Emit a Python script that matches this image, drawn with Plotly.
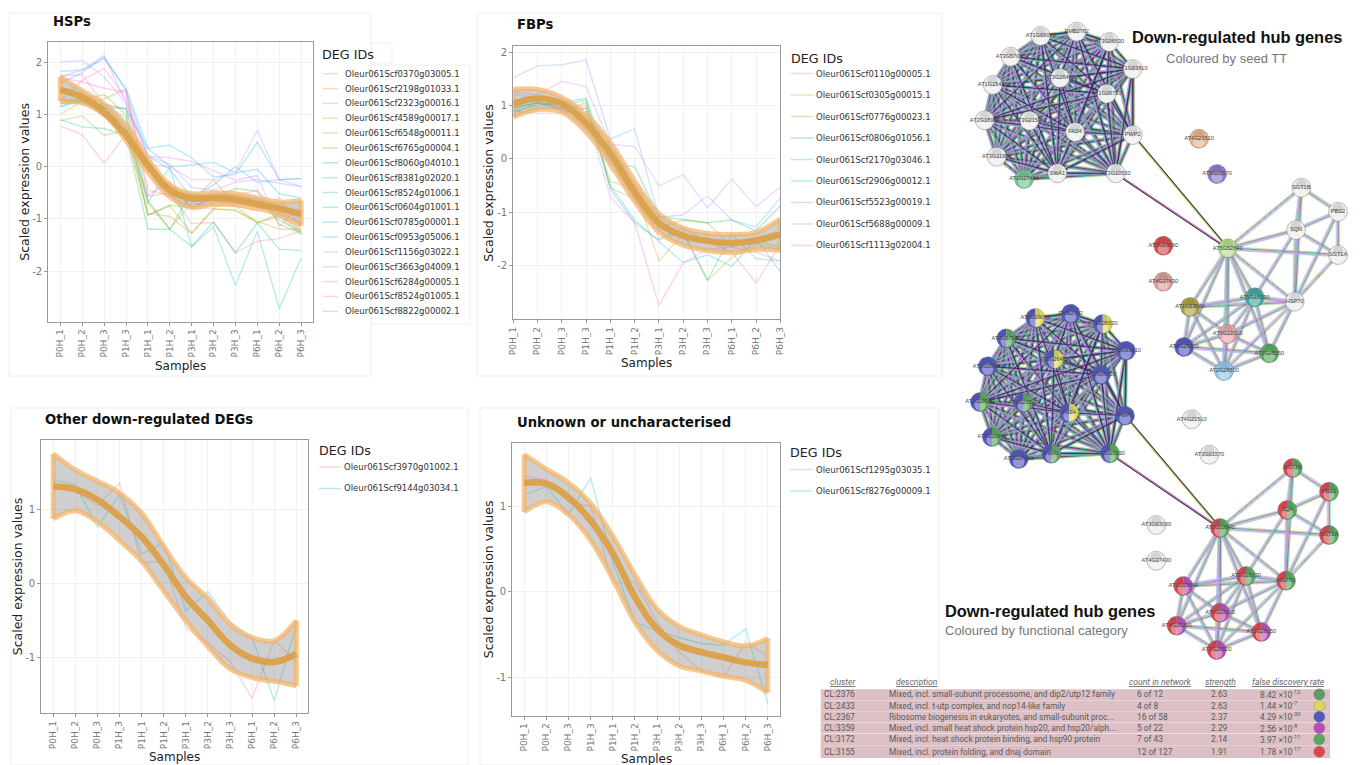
import math
import plotly.graph_objects as go

W, H = 1366, 765
SAMPLES = ["P0H_1","P0H_2","P0H_3","P1H_3","P1H_1","P1H_2","P3H_1","P3H_2","P3H_3","P6H_1","P6H_2","P6H_3"]

hsp_ids = ["Oleur061Scf0370g03005.1","Oleur061Scf2198g01033.1","Oleur061Scf2323g00016.1","Oleur061Scf4589g00017.1",
           "Oleur061Scf6548g00011.1","Oleur061Scf6765g00004.1","Oleur061Scf8060g04010.1","Oleur061Scf8381g02020.1",
           "Oleur061Scf8524g01006.1","Oleur061Scf0604g01001.1","Oleur061Scf0785g00001.1","Oleur061Scf0953g05006.1",
           "Oleur061Scf1156g03022.1","Oleur061Scf3663g04009.1","Oleur061Scf6284g00005.1","Oleur061Scf8524g01005.1",
           "Oleur061Scf8822g00002.1"]
hsp_values = [
 [0.78,0.61,0.06,0.62,-0.57,-0.50,-1.09,-1.07,-1.65,-1.43,-1.38,-1.22],
 [1.2,1.25,1.3,1.48,-0.45,-0.55,-0.65,-0.25,-0.75,-0.85,-0.6,-1.15],
 [1.0,1.25,0.95,0.7,-0.9,-0.95,-1.28,-0.8,-0.85,-1.05,-1.2,-1.2],
 [1.3,1.2,1.15,0.75,-0.7,-1.2,-0.7,-0.75,-0.75,-1.08,-0.9,-1.25],
 [0.88,0.97,0.6,0.68,-0.93,-0.75,-1.27,-0.82,-0.82,-1.08,-0.95,-1.3],
 [1.2,1.28,1.38,1.0,-0.93,-0.74,-0.78,-0.6,-0.42,-0.47,-1.1,-1.28],
 [1.15,1.3,1.12,1.12,-0.65,-1.2,-0.5,-0.65,-0.65,-0.6,-1.02,-1.25],
 [0.9,0.76,0.73,0.6,-1.2,-1.2,-1.53,-1.06,-1.65,-1.08,-1.58,-1.61],
 [1.25,1.3,1.15,0.95,-0.7,0.0,-1.54,-1.15,-2.27,-1.24,-2.72,-1.75],
 [1.15,1.25,1.18,1.1,0.35,0.41,0.17,-0.2,-0.15,0.47,-0.25,-0.23],
 [1.82,1.85,2.07,1.5,0.35,0.0,0.03,0.08,-0.12,-0.05,-0.52,-0.6],
 [1.6,1.8,2.1,1.45,0.2,-0.05,-0.6,-0.35,0.0,-0.3,-0.25,-0.23],
 [2.0,2.03,1.72,1.2,0.2,0.05,-0.4,-0.45,-0.3,-0.25,-0.32,-0.38],
 [1.72,1.85,2.13,1.22,0.03,0.0,-0.25,-0.25,-0.1,0.69,-0.25,-0.38],
 [1.25,1.65,1.88,1.3,0.2,0.17,0.1,-0.08,-0.26,-0.17,-1.15,-0.75],
 [1.7,1.62,1.5,1.42,-0.55,-0.3,-0.8,-0.55,-0.55,-0.45,-0.95,-1.2],
 [1.75,1.75,1.2,1.1,-0.1,-0.35,-0.8,-0.8,-0.6,-0.65,-0.85,-1.1],
]
hsp_mean = [1.47,1.33,1.04,0.6,0.03,-0.45,-0.61,-0.6,-0.63,-0.72,-0.8,-0.91]
hsp_hi = [1.72,1.45,1.2,0.8,0.15,-0.35,-0.52,-0.5,-0.52,-0.6,-0.68,-0.65]
hsp_lo = [1.25,1.22,1.0,0.5,-0.1,-0.58,-0.78,-0.72,-0.73,-0.8,-0.92,-1.13]

fbp_ids = ["Oleur061Scf0110g00005.1","Oleur061Scf0305g00015.1","Oleur061Scf0776g00023.1","Oleur061Scf0806g01056.1",
           "Oleur061Scf2170g03046.1","Oleur061Scf2906g00012.1","Oleur061Scf5523g00019.1","Oleur061Scf5688g00009.1",
           "Oleur061Scf1113g02004.1"]
fbp_values = [
 [0.9,0.85,0.85,0.95,-0.2,-0.5,-1.5,-1.3,-1.55,-1.75,-2.33,-1.6],
 [0.8,0.95,0.95,1.0,-0.43,-0.55,-1.92,-1.4,-2.28,-1.85,-1.6,-1.7],
 [0.85,1.05,0.9,1.05,-0.55,-0.75,-1.3,-1.15,-1.2,-1.65,-1.55,-1.65],
 [0.95,1.05,1.0,1.1,-0.1,-0.15,-1.08,-1.14,-1.2,-1.15,-1.35,-0.88],
 [0.9,1.0,1.05,1.13,-0.57,-1.2,-1.52,-1.37,-2.28,-1.42,-1.87,-1.92],
 [0.95,1.05,0.95,0.95,-0.5,-1.15,-1.55,-1.95,-1.8,-2.02,-1.5,-2.12],
 [1.52,1.74,1.76,1.85,0.37,0.56,-1.1,-1.05,-0.7,-1.15,-1.28,-0.73],
 [1.25,1.2,1.45,1.35,0.27,0.23,-0.51,-0.3,-0.92,-0.38,-0.9,-0.53],
 [1.2,1.15,0.9,0.85,-0.72,-1.2,-2.75,-1.95,-1.7,-1.65,-1.75,-1.92],
]
fbp_mean = [1.03,1.13,1.03,0.66,0.1,-0.62,-1.2,-1.45,-1.54,-1.58,-1.53,-1.42]
fbp_hi = [1.3,1.3,1.15,0.82,0.3,-0.42,-1.03,-1.3,-1.4,-1.42,-1.38,-1.13]
fbp_lo = [0.78,0.92,0.87,0.5,-0.1,-0.8,-1.37,-1.62,-1.72,-1.76,-1.7,-1.72]

other_ids = ["Oleur061Scf3970g01002.1","Oleur061Scf9144g03034.1"]
other_values = [
 [1.3,1.25,1.05,1.35,0.28,0.3,-0.6,-0.8,-1.05,-1.55,-0.77,-1.05],
 [1.4,1.33,0.76,1.2,0.4,0.55,-0.37,-0.11,-0.52,-0.73,-1.58,-0.55],
]
other_mean = [1.31,1.27,1.13,0.9,0.63,0.25,-0.18,-0.5,-0.83,-1.01,-1.06,-0.95]
other_hi = [1.75,1.53,1.38,1.22,0.95,0.5,0.08,-0.2,-0.55,-0.73,-0.77,-0.5]
other_lo = [0.87,0.98,0.83,0.58,0.3,-0.1,-0.5,-0.85,-1.15,-1.27,-1.32,-1.38]

unk_ids = ["Oleur061Scf1295g03035.1","Oleur061Scf8276g00009.1"]
unk_values = [
 [1.35,1.3,1.05,1.0,0.1,0.12,-0.35,-0.7,-0.92,-1.0,-0.58,-0.75],
 [1.13,1.23,0.9,1.33,0.35,-0.35,-0.45,-0.53,-0.6,-0.62,-0.43,-1.3],
]
unk_mean = [1.27,1.26,1.1,0.83,0.45,-0.06,-0.43,-0.62,-0.7,-0.76,-0.82,-0.85]
unk_hi = [1.6,1.43,1.27,1.03,0.65,0.2,-0.2,-0.4,-0.5,-0.58,-0.63,-0.54]
unk_lo = [0.93,1.05,0.9,0.6,0.15,-0.35,-0.68,-0.86,-0.92,-0.98,-1.03,-1.17]

hsp_colors = ["#F8766D","#E7851E","#D09400","#B2A100","#89AC00","#45B500","#00BC51","#00C087","#00C0B2",
              "#00BCD6","#00B3F2","#29A3FF","#9C8DFF","#D277FF","#F166E8","#FF61C7","#FF689E"]
fbp_colors = ["#F8766D","#D39200","#93AA00","#00BA38","#00C19F","#00B9E3","#619CFF","#DB72FB","#FF61C3"]
two_colors = ["#F8766D","#00BFC4"]

# table
table_header = ["cluster","description","count in network","strength","false discovery rate"]
table_cluster = ["CL:2376","CL:2433","CL:2367","CL:3359","CL:3172","CL:3155"]
table_desc = ["Mixed, incl. small-subunit processome, and dip2/utp12 family","Mixed, incl. t-utp complex, and nop14-like family",
              "Ribosome biogenesis in eukaryotes, and small-subunit proc...","Mixed, incl. small heat shock protein hsp20, and hsp20/alph...",
              "Mixed, incl. heat shock protein binding, and hsp90 protein","Mixed, incl. protein folding, and dnaj domain"]
table_count = ["6 of 12","4 of 8","16 of 58","5 of 22","7 of 43","12 of 127"]
table_strength = ["2.63","2.63","2.37","2.29","2.14","1.91"]
table_fdr = ["8.42 ×10<sup>-12</sup>","1.44 ×10<sup>-7</sup>","4.29 ×10<sup>-30</sup>","2.56 ×10<sup>-8</sup>","3.97 ×10<sup>-11</sup>","1.78 ×10<sup>-17</sup>"]
BLUE, YEL, GRN, MAG, RED = "#5158bd", "#dcd85c", "#58a85e", "#b84fb8", "#d9474f"
table_colors = ["#5f9a68", YEL, BLUE, MAG, GRN, RED]

# networks
names = ["AT1G69070","EMB2762","AT3G06530","AT3G57000","AT1G63810","AT3G26480","AT1G15420","AT1G06720","AT2G18900","AT3G21540",
         "FAS4","PWP2","AT3G11964","SWA1","AT3G10530","AT1G27461",
         "AT4G21510","AT3G01570","AT3G63060","AT4G37430",
         "AT5G52840","SGT1B","PBS2","SQN","SGT1A","HSP70","AT1G16030","AT1G53540","AT5G12020","AT4G25200","AT2G28150","AT2G29500"]
top_x = [1040.7,1076.7,1109.3,1010.7,1132.7,1060,992.7,1106.7,984.7,1029.3,1075,1132.7,996.7,1057.3,1115.7,1024,
         1199,1217,1163.3,1163.3,
         1227.7,1301.3,1338,1296,1338,1294.7,1254.7,1190,1227.7,1184,1269.3,1224]
top_y = [36,31.7,42,56.7,69,78,85,93.7,120.3,120.7,132,135,156.7,173.3,173.3,179,
         138.7,174,245.7,281.7,
         248.3,187.7,211.7,230,255,301.7,297.3,307,334,347,353.3,371]
bot_x = [1035.3,1070.7,1102.7,1006.3,1126,1054,987.7,1101,980,1023.3,1069,1125,992,1051.3,1110,1018.7,
         1191.7,1209.3,1156.3,1156.3,
         1220,1292.7,1329,1287.3,1329,1286,1246,1183.3,1220,1176.7,1261.3,1216.7]
bot_y = [318,313.7,324,338.3,350.7,359.3,366.3,374.7,402,402.7,412.7,415.7,437,453.7,453.3,459,
         419.3,454.7,525,560.7,
         528,468,491.7,510,535,580.7,576,586,612.7,625.7,632,650]
WH = "#ececec"
top_fill = [[WH]]*15 + [["#70c890"]] + [["#e8b48c"],["#8f78c8"],["#d9474f"],["#dc9c9c"],
            ["#b5dc8c"],[WH],[WH],[WH],[WH],[WH],["#3fa8a0"],["#a8a040"],["#e4a6a8"],["#5158bd"],[GRN],["#90c8ec"]]
bot_fill = [[BLUE,YEL],[BLUE],[BLUE,YEL],[BLUE,GRN],[BLUE],[BLUE,YEL],[BLUE],[BLUE],[BLUE,GRN],[BLUE,GRN],[BLUE,YEL],[BLUE],[BLUE,GRN],[BLUE,GRN],[BLUE,GRN],[BLUE],
            [WH],[WH],[WH],[WH],
            [RED,GRN],[RED,GRN],[RED,GRN],[RED,GRN],[RED,GRN],[RED,GRN],[RED,GRN],[RED,MAG],[RED,MAG],[RED,MAG],[RED,MAG],[RED,MAG]]
cross_edges = [(20,11,["#c8d860","#333333"]),(20,14,["#333333","#c060c0"])]
c2_edges = [(20,21),(20,23),(20,24),(20,25),(20,26),(20,27),(20,28),(20,29),(20,30),(20,31),
            (22,21),(22,23),(22,24),(22,25),(21,23),(21,25),(23,24),(23,25),(23,26),(24,25),
            (25,26),(25,27),(25,28),(25,30),(25,31),(26,27),(26,28),(26,29),(26,30),(26,31),
            (27,28),(27,29),(27,31),(28,29),(28,30),(28,31),(29,30),(29,31),(30,31)]
c1_edges = [(a,b) for a in range(16) for b in range(a+1,16)]
dense_colors = ["#c8d860","#30b8c8","#2f2f2f","#a030a8","#48a860","#a8a0e0"]
sparse_colors = ["#d6e078","#6cd0dc","#76508e","#d88ad8","#78c488","#b8b0ec"]
NODE_R = 9.5

fig = go.Figure()
shapes, annos = [], []

def px(x): return x / W
def py(y): return 1 - y / H

def text(x, y, s, size=9, color="#333", family="DejaVu Sans", anchor="left", angle=0, **kw):
    # annotations keep a small inner padding, so left-anchored text is pulled back by it
    shift = 2.4 if anchor == "left" else 0
    annos.append(dict(xref="paper", yref="paper", x=px(x-shift), y=py(y), text=s, showarrow=False, xanchor=anchor,
                      yanchor="middle", textangle=angle, font=dict(size=size, color=color, family=family), **kw))

def frame(x0, y0, x1, y1):
    shapes.append(dict(type="rect", xref="paper", yref="paper", x0=px(x0), x1=px(x1), y0=py(y0), y1=py(y1),
                       line=dict(color="#efefef", width=1), fillcolor="rgba(0,0,0,0)", layer="below"))

def chart(idx, box, xr, yr, ticks, ids, values, colors, mean, hi, lo, title, title_xy, ylab_x, xlab_y, leg):
    ax = "" if idx == 1 else str(idx)
    xa, ya = "x"+ax, "y"+ax
    x = list(range(12))
    for name, v, c in zip(ids, values, colors):
        fig.add_trace(go.Scatter(x=x, y=v, mode="lines", name=name, xaxis=xa, yaxis=ya, showlegend=False, opacity=0.28,
                                 line=dict(color=c, width=1.4)))
    band = "rgba(243,180,105,0.72)"
    fig.add_trace(go.Scatter(x=x, y=lo, mode="lines", xaxis=xa, yaxis=ya, showlegend=False, name="lower",
                             line=dict(color=band, width=5, shape="spline")))
    fig.add_trace(go.Scatter(x=x, y=hi, mode="lines", xaxis=xa, yaxis=ya, showlegend=False, name="upper", fill="tonexty",
                             fillcolor="rgba(130,130,130,0.38)", line=dict(color=band, width=5, shape="spline")))
    fig.add_trace(go.Scatter(x=[0,0,None,11,11], y=[lo[0],hi[0],None,lo[-1],hi[-1]], mode="lines", xaxis=xa, yaxis=ya,
                             showlegend=False, name="edge", line=dict(color=band, width=5)))
    fig.add_trace(go.Scatter(x=x, y=mean, mode="lines", xaxis=xa, yaxis=ya, showlegend=False, name="mean",
                             line=dict(color="#dba24f", width=6.5, shape="spline")))
    fig.update_layout(**{
        "xaxis"+ax: dict(domain=[px(box[0]),px(box[2])], range=xr, anchor=ya, tickmode="array", tickvals=x, ticktext=SAMPLES,
                         tickangle=-90, tickfont=dict(size=9,color="#777",family="DejaVu Sans"), ticks="outside", ticklen=3,
                         tickcolor="#999", showgrid=True, gridcolor="#f1f1f1", gridwidth=1, zeroline=False, showline=True,
                         linecolor="#999", linewidth=1.2, mirror=True, automargin=False),
        "yaxis"+ax: dict(domain=[py(box[3]),py(box[1])], range=yr, anchor=xa, tickmode="array", tickvals=ticks,
                         ticktext=[str(t) for t in ticks],
                         tickfont=dict(size=10,color="#777",family="DejaVu Sans"), ticks="outside", ticklen=3,
                         tickcolor="#999", showgrid=True, gridcolor="#f1f1f1", gridwidth=1, zeroline=False, showline=True,
                         linecolor="#999", linewidth=1.2, mirror=True, automargin=False),
    })
    text(title_xy[0], title_xy[1], "<b>"+title+"</b>", size=13.2, color="#111")
    text(ylab_x, (box[1]+box[3])/2, "Scaled expression values", size=12.5, color="#222", anchor="center", angle=-90)
    text((box[0]+box[2])/2, xlab_y, "Samples", size=12, color="#222", anchor="center")
    lx0, lx1, tx, ty0, dy, ttl_y = leg
    text(lx0, ttl_y, "DEG IDs", size=12.7, color="#222")
    for i, (name, c) in enumerate(zip(ids, colors)):
        yy = ty0 + i*dy
        shapes.append(dict(type="line", xref="paper", yref="paper", x0=px(lx0), x1=px(lx1), y0=py(yy), y1=py(yy),
                           line=dict(color=c, width=1.4), opacity=0.3))
        text(tx, yy, name, size=8.5, color="#333")

# panel frames
frame(9,13,371,376); frame(371,43,392,63); frame(371,65,470,324)
frame(477,13,942,376)
frame(11,408,468,765); frame(480,408,939,765)

chart(1,(48.3,42.3,312.7,321.7),[-0.55,11.53],[-2.97,2.38],[-2,-1,0,1,2],hsp_ids,hsp_values,hsp_colors,hsp_mean,hsp_hi,hsp_lo,
      "HSPs",(53,21),23.7,366,(322.7,338,345.7,73.7,14.85,54.5))
chart(2,(513.3,46.3,780.3,319.3),[0,11],[-3.01,2.107],[-2,-1,0,1,2],fbp_ids,fbp_values,fbp_colors,fbp_mean,fbp_hi,fbp_lo,
      "FBPs",(517,25),489,363,(791,813,816.5,73.5,21.5,58.5))
chart(3,(41.3,440.3,308.3,713.3),[-0.54,11.54],[-1.75,1.93],[-1,0,1],other_ids,other_values,two_colors,other_mean,other_hi,other_lo,
      "Other down-regulated DEGs",(45.5,419.5),17.5,757,(319,341,344.5,467,21.5,450.5))
chart(4,(512.3,442.7,779.7,715.7),[-0.54,11.54],[-1.44,1.737],[-1,0,1],unk_ids,unk_values,two_colors,unk_mean,unk_hi,unk_lo,
      "Unknown or uncharacterised",(517,422),488,759,(790,812,816,469.5,21.5,452))

# overlay pixel axes for networks and table markers
fig.update_layout(
    xaxis5=dict(domain=[0,1], range=[0,W], visible=False, fixedrange=True, automargin=False, anchor="y5"),
    yaxis5=dict(domain=[0,1], range=[H,0], visible=False, fixedrange=True, automargin=False, anchor="x5"),
)

def stripes(xs, ys, edges, colors, width, gap, thick_every=0):
    tr = {c: ([], []) for c in colors}
    thick = ([], [])
    n = len(colors)
    for k, (a, b) in enumerate(edges):
        dx, dy = xs[b]-xs[a], ys[b]-ys[a]
        L = math.hypot(dx, dy) or 1
        nx, ny = -dy/L, dx/L
        for i, c in enumerate(colors):
            off = (i-(n-1)/2)*gap
            tr[c][0].extend([xs[a]+nx*off, xs[b]+nx*off, None])
            tr[c][1].extend([ys[a]+ny*off, ys[b]+ny*off, None])
        if thick_every and k % thick_every == 0:
            thick[0].extend([xs[a], xs[b], None])
            thick[1].extend([ys[a], ys[b], None])
    for c in colors:
        fig.add_trace(go.Scatter(x=tr[c][0], y=tr[c][1], mode="lines", xaxis="x5", yaxis="y5", showlegend=False, hoverinfo="skip",
                                 line=dict(color=c, width=width)))
    if thick[0]:
        fig.add_trace(go.Scatter(x=thick[0], y=thick[1], mode="lines", xaxis="x5", yaxis="y5", showlegend=False, hoverinfo="skip",
                                 line=dict(color="#4a2468", width=0.9)))

def cross(xs, ys):
    for a, b, cols in cross_edges:
        dx, dy = xs[b]-xs[a], ys[b]-ys[a]
        L = math.hypot(dx, dy) or 1
        nx, ny = -dy/L, dx/L
        for i, c in enumerate(cols):
            off = (i-0.5)*1.1
            fig.add_trace(go.Scatter(x=[xs[a]+nx*off, xs[b]+nx*off], y=[ys[a]+ny*off, ys[b]+ny*off], mode="lines",
                                     xaxis="x5", yaxis="y5", showlegend=False, hoverinfo="skip", line=dict(color=c, width=1.1)))

def wedges(xs, ys, fills):
    polys = {}
    for x, y, f in zip(xs, ys, fills):
        if len(f) == 1:
            a0 = [(0, 360, f[0])]
        else:
            a0 = [(90, 270, f[0]), (-90, 90, f[1])]
        for s, e, c in a0:
            p = polys.setdefault(c, ([], []))
            steps = 24
            pts = [(x+NODE_R*math.cos(math.radians(s+(e-s)*t/steps)), y-NODE_R*math.sin(math.radians(s+(e-s)*t/steps))) for t in range(steps+1)]
            p[0].extend([q[0] for q in pts]+[pts[0][0], None])
            p[1].extend([q[1] for q in pts]+[pts[0][1], None])
    for c, p in polys.items():
        fig.add_trace(go.Scatter(x=p[0], y=p[1], mode="lines", fill="toself", fillcolor=c, xaxis="x5", yaxis="y5",
                                 line=dict(width=0, color=c), showlegend=False, hoverinfo="skip"))

def network(xs, ys, fills):
    stripes(xs, ys, c1_edges, dense_colors, 0.85, 0.72, thick_every=3)
    stripes(xs, ys, c2_edges, sparse_colors, 0.7, 0.72)
    cross(xs, ys)
    wedges(xs, ys, fills)
    # glossy shading: dark ring, then a pale band below the centre
    fig.add_trace(go.Scatter(x=xs, y=ys, mode="markers", xaxis="x5", yaxis="y5", showlegend=False, hoverinfo="skip",
                             marker=dict(size=2*NODE_R, color="rgba(0,0,0,0)", line=dict(color="rgba(90,90,90,0.45)", width=0.8))))
    fig.add_trace(go.Scatter(x=xs, y=[v+3 for v in ys], mode="markers", xaxis="x5", yaxis="y5", showlegend=False, hoverinfo="skip",
                             marker=dict(size=NODE_R*1.2, color="rgba(255,255,255,0.38)", line=dict(width=0))))
    fig.add_trace(go.Scatter(x=xs, y=[v-3.5 for v in ys], mode="markers", xaxis="x5", yaxis="y5", showlegend=False, hoverinfo="skip",
                             marker=dict(size=NODE_R*1.1, color="rgba(70,70,70,0.14)", line=dict(width=0))))
    fig.add_trace(go.Scatter(x=xs, y=ys, mode="text", text=names, textposition="middle center", xaxis="x5", yaxis="y5",
                             showlegend=False, hoverinfo="skip", textfont=dict(size=5.6, color="#444", family="Liberation Sans")))

network(top_x, top_y, top_fill)
network(bot_x, bot_y, bot_fill)

# right-hand titles
text(1132.7, 37, "<b>Down-regulated hub genes</b>", size=16.4, color="#111", family="Liberation Sans")
text(1166, 59, "Coloured by seed TT", size=13, color="#777", family="Liberation Sans")
text(945, 610.7, "<b>Down-regulated hub genes</b>", size=16.4, color="#111", family="Liberation Sans")
text(945, 630, "Coloured by functional category", size=13, color="#777", family="Liberation Sans")

# table
row_y = [694.3,705.7,716.7,728,739.3,751.7]
row_edges = [689,700,711,722.3,733.6,745,758]
for i in range(6):
    shapes.append(dict(type="rect", xref="paper", yref="paper", x0=px(820.7), x1=px(1330), y0=py(row_edges[i]+0.3), y1=py(row_edges[i+1]),
                       fillcolor="#dcc0c5", line=dict(width=0), layer="below"))
for s, x in zip(table_header, [830,896.7,1129,1205.7,1252]):
    text(x, 682, "<i><u>"+s+"</u></i>", size=8.6, color="#666", family="Roboto")
for i in range(6):
    text(824, row_y[i], table_cluster[i], size=8.4, color="#5a5a5a", family="Roboto")
    text(889.7, row_y[i], table_desc[i], size=8.3, color="#5a5a5a", family="Roboto")
    text(1137.7, row_y[i], table_count[i], size=8.4, color="#5a5a5a", family="Roboto")
    text(1211, row_y[i], table_strength[i], size=8.4, color="#5a5a5a", family="Roboto")
    text(1260.7, row_y[i], table_fdr[i], size=8.4, color="#5a5a5a", family="Roboto")
fig.add_trace(go.Scatter(x=[1319.3]*6, y=row_y, mode="markers", xaxis="x5", yaxis="y5", showlegend=False, hoverinfo="skip",
                         marker=dict(size=11, color=table_colors, line=dict(color="rgba(100,100,100,0.5)", width=0.6))))

fig.update_layout(width=W, height=H, margin=dict(l=0,r=0,t=0,b=0), paper_bgcolor="white", plot_bgcolor="rgba(0,0,0,0)",
                  showlegend=False, shapes=shapes, annotations=annos, font=dict(family="DejaVu Sans"))
fig.write_html("out.html", config={"displayModeBar": False},
               post_script="document.body.style.margin='0';document.body.style.overflow='hidden';")
